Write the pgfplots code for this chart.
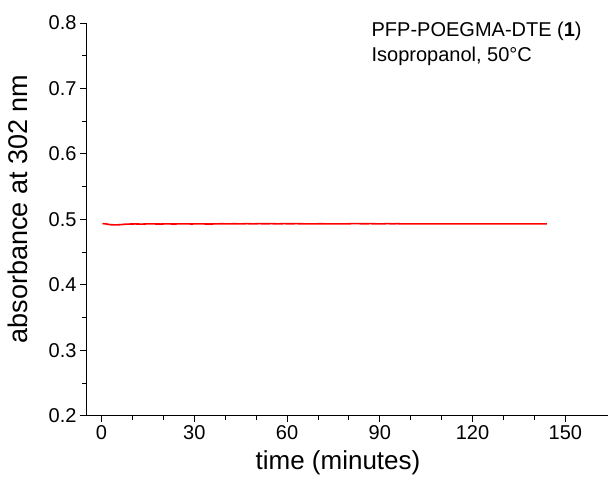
\documentclass[border=0pt]{standalone}
\usepackage{fontspec}
\setmainfont{Liberation Sans}
\usepackage{pgfplots}
\pgfplotsset{compat=1.18}
\begin{document}
\begin{tikzpicture}
\begin{axis}[
  scale only axis, width=521.5pt, height=392.7pt,
  xmin=-4.85, xmax=163.8, ymin=0.2, ymax=0.8,
  axis x line*=bottom, axis y line*=left,
  axis line style={-, line width=1pt},
  xtick={0,30,...,150}, minor x tick num=2,
  ytick={0.2,0.3,...,0.8}, minor y tick num=1,
  yticklabel style={/pgf/number format/.cd, fixed, fixed zerofill, precision=1},
  tick align=outside, major tick length=6.5pt, minor tick length=4.5pt,
  tick style={line width=0.9pt, black},
  ticklabel style={font=\fontsize{20}{24}\selectfont},
  /pgf/number format/assume math mode=true,
  xlabel={time (minutes)}, ylabel={absorbance at 302 nm},
  xlabel style={font=\fontsize{26}{30}\selectfont, at={(axis description cs:0.4823,-0.1197)}, anchor=center},
  ylabel style={font=\fontsize{27}{31}\selectfont, at={(axis description cs:-0.1320,0.526)}, anchor=center},
  clip=false,
]
\addplot[red, line width=1.6pt] coordinates {
(0.3,0.4935) (1.5,0.4930) (3,0.4918) (4.5,0.4915) (6,0.4918) (7.5,0.4925) (9,0.4928)
(11,0.4930) (13,0.4927) (15,0.4931) (17,0.4930) (19,0.4928) (21,0.4931) (23,0.4929)
(25,0.4930) (27,0.4932) (29,0.4929) (31,0.4931) (33,0.4930) (35,0.4928) (37,0.4931)
(39,0.4933) (41,0.4930) (43,0.4933) (45,0.4931) (47,0.4934) (49,0.4931) (51,0.4934)
(53,0.4932) (55,0.4934) (57,0.4931) (59,0.4934) (61,0.4932) (63,0.4934) (65,0.4932)
(67,0.4931) (69,0.4931) (71,0.4933) (73,0.4931) (75,0.4931) (77,0.4931) (79,0.4931)
(81,0.4934) (83,0.4934) (85,0.4932) (87,0.4934) (89,0.4931) (91,0.4931) (92.5,0.4935)
(94,0.4931) (95.5,0.4934) (97,0.4931) (110,0.4931) (125,0.4931) (144,0.4931)
};
\node[anchor=north west, align=left, inner sep=0pt, font=\fontsize{20}{24.5}\selectfont]
  at (axis cs:87.3,0.8013) {PFP-POEGMA-DTE (\textbf{1})\\Isopropanol, 50°C};
\end{axis}
\pgfresetboundingbox
\useasboundingbox (-86.5pt,-65.3pt) rectangle (521.5pt,415.7pt);
\end{tikzpicture}
\end{document}
